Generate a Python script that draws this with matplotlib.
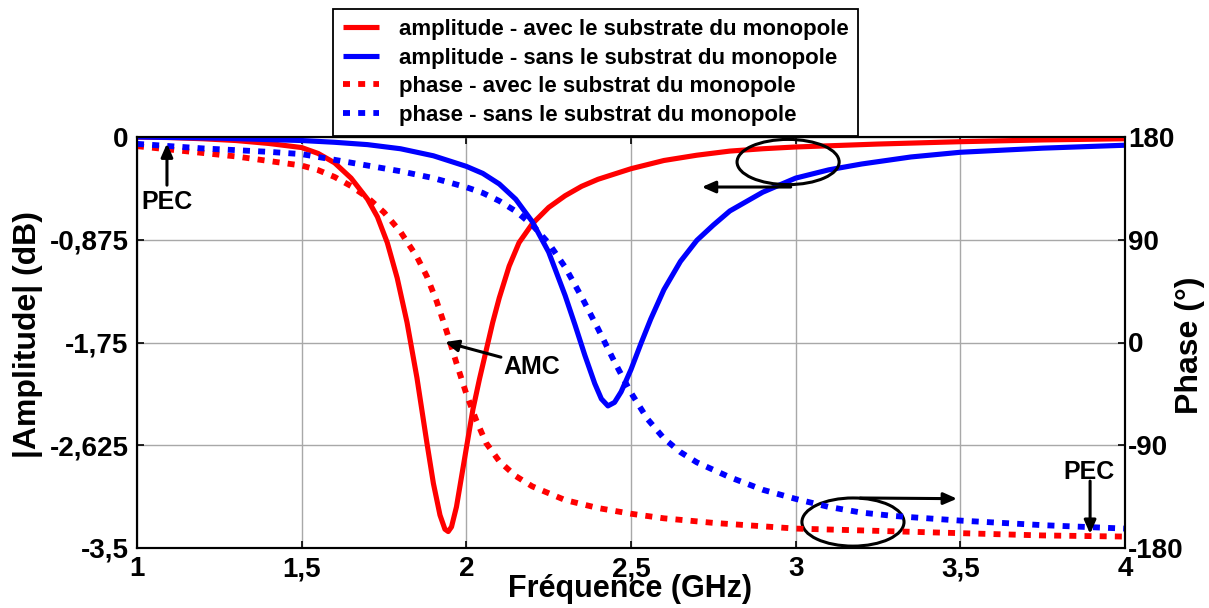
import matplotlib
matplotlib.use("Agg")
import matplotlib.pyplot as plt
from matplotlib.patches import Ellipse

plt.rcParams['font.family'] = ['Liberation Sans', 'DejaVu Sans']
plt.rcParams['font.weight'] = 'bold'

# ---------------- data ----------------
freq_amp_avec = [1.0, 1.1, 1.2, 1.3, 1.4, 1.5, 1.55, 1.6, 1.65, 1.7, 1.73, 1.76, 1.79, 1.82, 1.85,
                 1.88, 1.9, 1.92, 1.935, 1.945, 1.955, 1.97, 1.985, 2.0, 2.02, 2.04, 2.06, 2.08,
                 2.1, 2.13, 2.16, 2.2, 2.25, 2.3, 2.35, 2.4, 2.5, 2.6, 2.7, 2.8, 2.9, 3.0, 3.25,
                 3.5, 3.75, 4.0]
amp_avec = [0.0, -0.005, -0.015, -0.03, -0.055, -0.09, -0.14, -0.22, -0.35, -0.53, -0.68, -0.9,
            -1.2, -1.58, -2.05, -2.6, -2.95, -3.22, -3.34, -3.36, -3.32, -3.15, -2.9, -2.65,
            -2.32, -2.06, -1.82, -1.58, -1.37, -1.1, -0.9, -0.74, -0.6, -0.5, -0.42, -0.36,
            -0.27, -0.2, -0.155, -0.12, -0.1, -0.085, -0.06, -0.04, -0.025, -0.015]

freq_amp_sans = [1.0, 1.25, 1.5, 1.6, 1.7, 1.8, 1.9, 2.0, 2.05, 2.1, 2.15, 2.2, 2.25, 2.3, 2.33,
                 2.36, 2.39, 2.41, 2.43, 2.45, 2.47, 2.5, 2.53, 2.56, 2.6, 2.65, 2.7, 2.75, 2.8,
                 2.9, 3.0, 3.1, 3.2, 3.35, 3.5, 3.75, 4.0]
amp_sans = [0.0, -0.01, -0.03, -0.045, -0.065, -0.1, -0.16, -0.25, -0.31, -0.4, -0.53, -0.72,
            -0.98, -1.35, -1.6, -1.86, -2.1, -2.23, -2.29, -2.26, -2.17, -1.98, -1.76, -1.55,
            -1.3, -1.06, -0.88, -0.75, -0.63, -0.47, -0.35, -0.28, -0.23, -0.17, -0.13,
            -0.095, -0.07]

freq_ph_avec = [1.0, 1.1, 1.2, 1.3, 1.4, 1.5, 1.55, 1.6, 1.65, 1.7, 1.75, 1.8, 1.85, 1.88, 1.91,
                1.94, 1.97, 2.0, 2.03, 2.06, 2.1, 2.15, 2.2, 2.3, 2.4, 2.5, 2.6, 2.75, 3.0,
                3.25, 3.5, 3.75, 4.0]
ph_avec = [172, 169, 166, 163, 159, 155, 151, 145, 137, 127, 114, 97, 75, 58, 36,
           10, -18, -45, -68, -88, -104, -117, -126, -138, -145, -150, -154, -158, -163,
           -165, -167, -169, -170]

freq_ph_sans = [1.0, 1.2, 1.4, 1.5, 1.6, 1.7, 1.8, 1.9, 2.0, 2.05, 2.1, 2.15, 2.2, 2.25, 2.3,
                2.35, 2.4, 2.45, 2.5, 2.55, 2.6, 2.65, 2.7, 2.8, 2.9, 3.0, 3.1, 3.2, 3.3, 3.5,
                3.75, 4.0]
ph_sans = [174, 170, 167, 165, 160, 155, 150, 144, 136, 131, 124, 115, 103, 87, 66,
           40, 12, -17, -44, -67, -84, -96, -105, -118, -129, -137, -144, -149, -152, -156,
           -160, -163]

x_ticks = [1, 1.5, 2, 2.5, 3, 3.5, 4]
x_ticklabels = ['1', '1,5', '2', '2,5', '3', '3,5', '4']
amp_ticks = [-3.5, -2.625, -1.75, -0.875, 0]
amp_ticklabels = ['-3,5', '-2,625', '-1,75', '-0,875', '0']
ph_ticks = [-180, -90, 0, 90, 180]
ph_ticklabels = ['-180', '-90', '0', '90', '180']

labels = ['amplitude - avec le substrate du monopole',
          'amplitude - sans le substrat du monopole',
          'phase - avec le substrat du monopole',
          'phase - sans le substrat du monopole']

# ---------------- figure ----------------
W, H = 1209, 608
fig = plt.figure(figsize=(W / 100, H / 100), dpi=100)
L, R, T, B = 137, 1125, 137, 548
ax = fig.add_axes([L / W, 1 - B / H, (R - L) / W, (B - T) / H])
ax2 = ax.twinx()

lw = 3.7
lwd = 4.2
dots = (1.2, 1.4)
l1, = ax.plot(freq_amp_avec, amp_avec, color='#ff0000', lw=lw, solid_capstyle='butt',
              solid_joinstyle='round', zorder=3)
l2, = ax.plot(freq_amp_sans, amp_sans, color='#0000ff', lw=lw, solid_capstyle='butt',
              solid_joinstyle='round', zorder=3)
l3, = ax2.plot(freq_ph_avec, ph_avec, color='#ff0000', lw=lwd, dashes=dots, dash_capstyle='butt')
l4, = ax2.plot(freq_ph_sans, ph_sans, color='#0000ff', lw=lwd, dashes=dots, dash_capstyle='butt')

ax.set_xlim(1, 4)
ax.set_ylim(-3.5, 0)
ax2.set_ylim(-180, 180)

ax.set_xticks(x_ticks)
ax.set_xticklabels(x_ticklabels)
ax.set_yticks(amp_ticks)
ax.set_yticklabels(amp_ticklabels)
ax2.set_yticks(ph_ticks)
ax2.set_yticklabels(ph_ticklabels)

ax.grid(True, color='#a8a8a8', lw=1.0, zorder=0)
ax.set_axisbelow(True)

ax.tick_params(axis='both', direction='in', length=5, width=1.2, labelsize=20, top=True, right=False)
ax.tick_params(axis='x', pad=6)
ax.tick_params(axis='y', pad=6)
ax2.tick_params(axis='y', direction='in', length=5, width=1.2, labelsize=20, pad=2)
for a in (ax, ax2):
    for lab in a.get_xticklabels() + a.get_yticklabels():
        lab.set_fontweight('bold')
    for s in a.spines.values():
        s.set_linewidth(1.5)
        s.set_color('black')

fig.text(630 / W, 1 - 589 / H, 'Fréquence (GHz)', ha='center', va='center', fontsize=22, fontweight='bold')
fig.text(28 / W, 1 - 335 / H, '|Amplitude| (dB)', ha='center', va='center', rotation=90, fontsize=23, fontweight='bold')
fig.text(1190 / W, 1 - 345 / H, 'Phase (°)', ha='center', va='center', rotation=90, fontsize=23, fontweight='bold')

# ---------------- annotations (amplitude-axis data coords) ----------------
tr = ax.transData
arrow_kw = dict(arrowstyle='-|>,head_length=0.8,head_width=0.35', color='black', lw=2.2,
                shrinkA=0, shrinkB=0)
ax2.annotate('', xy=(1.091, -0.055), xytext=(1.091, -0.41), xycoords=tr, textcoords=tr, arrowprops=arrow_kw)
ax2.text(1.09, -0.555, 'PEC', transform=tr, ha='center', va='center', fontsize=18, fontweight='bold')

ax2.annotate('', xy=(1.935, -1.746), xytext=(2.105, -1.875), xycoords=tr, textcoords=tr, arrowprops=arrow_kw)
ax2.text(2.20, -1.96, 'AMC', transform=tr, ha='center', va='center', fontsize=18, fontweight='bold')

ax2.annotate('', xy=(3.894, -3.38), xytext=(3.894, -2.93), xycoords=tr, textcoords=tr, arrowprops=arrow_kw)
ax2.text(3.89, -2.85, 'PEC', transform=tr, ha='center', va='center', fontsize=18, fontweight='bold')

e1 = Ellipse((2.977, -0.213), 0.31, 0.385, transform=tr, fill=False, edgecolor='black', lw=2.2)
ax2.add_patch(e1)
ax2.annotate('', xy=(2.715, -0.426), xytext=(2.985, -0.426), xycoords=tr, textcoords=tr, arrowprops=arrow_kw)

e2 = Ellipse((3.174, -3.279), 0.31, 0.41, transform=tr, fill=False, edgecolor='black', lw=2.2)
ax2.add_patch(e2)
ax2.annotate('', xy=(3.49, -3.08), xytext=(3.196, -3.074), xycoords=tr, textcoords=tr, arrowprops=arrow_kw)

# ---------------- legend ----------------
leg = fig.legend([l1, l2, l3, l4], labels, loc='upper left',
                 bbox_to_anchor=(333 / W, 1 - 9 / H), bbox_transform=fig.transFigure,
                 prop={'size': 16, 'weight': 'bold'}, frameon=True, fancybox=False,
                 framealpha=1, edgecolor='black', borderpad=0.45, labelspacing=0.34,
                 handlelength=1.6, handletextpad=0.9, borderaxespad=0)
leg.get_frame().set_linewidth(1.3)

fig.savefig('out.png', dpi=100)
